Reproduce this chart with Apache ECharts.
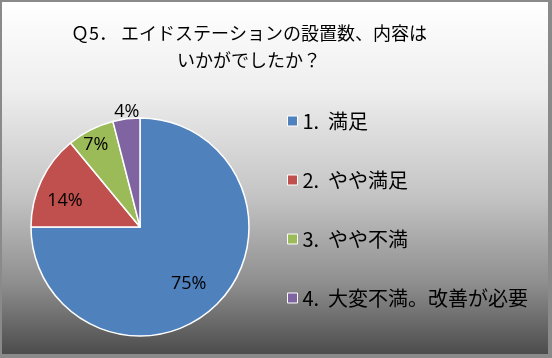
<!DOCTYPE html>
<html><head><meta charset="utf-8">
<script src="https://cdn.jsdelivr.net/npm/echarts@6/dist/echarts.min.js"></script>
<style>
html,body{margin:0;padding:0;width:552px;height:358px;overflow:hidden;background:#fff;}
#frame{position:absolute;left:0;top:0;width:552px;height:358px;background:#8a8a8a;}
#chart{position:absolute;left:2px;top:2px;width:546px;height:352px;}
</style></head>
<body><div id="frame"><div id="chart"></div></div>
<script>
const titleText = "Ｑ5． エイドステーションの設置数、内容は\nいかがでしたか？";
const categories = ["1.  満足", "2.  やや満足", "3.  やや不満", "4.  大変不満。改善が必要"];
const percents = [75, 14, 7, 4];
const colors = ["#4F81BD", "#C0504D", "#9BBB59", "#8064A2"];
const labelOffsets = [[8, 16], [-23, -2], [-18, -31], [-6, -58]];

const chart = echarts.init(document.getElementById('chart'));
chart.setOption({
  backgroundColor: new echarts.graphic.LinearGradient(0, 0, 0, 1, [
    {offset: 0, color: '#ffffff'},
    {offset: 0.25, color: '#eeeeee'},
    {offset: 0.55, color: '#c4c4c4'},
    {offset: 0.8, color: '#8e8e8e'},
    {offset: 1, color: '#4c4c4c'}
  ]),
  animation: false,
  title: {
    text: titleText,
    left: 242, top: 13, textAlign: 'center',
    textStyle: {fontFamily: '"Noto Sans CJK JP"', fontSize: 18, fontWeight: 'normal', color: '#000', lineHeight: 27}
  },
  legend: {
    orient: 'vertical', left: 285, top: 109, padding: 0,
    itemWidth: 10, itemHeight: 10, itemGap: 39,
    icon: 'rect',
    itemStyle: {borderColor: '#fff', borderWidth: 1},
    textStyle: {fontFamily: '"Noto Sans CJK JP"', fontSize: 20, color: '#000'},
    data: categories
  },
  series: [{
    type: 'pie',
    center: [138, 225], radius: 109,
    startAngle: 90, clockwise: true,
    itemStyle: {borderColor: '#fff', borderWidth: 1.5},
    label: {position: 'inside', formatter: '{c}%', fontFamily: '"Open Sans", "Liberation Sans"', fontSize: 18, color: '#000'},
    labelLine: {show: false},
    data: categories.map((n, i) => ({name: n, value: percents[i], itemStyle: {color: colors[i]}, label: {offset: labelOffsets[i]}}))
  }]
});
</script></body></html>
